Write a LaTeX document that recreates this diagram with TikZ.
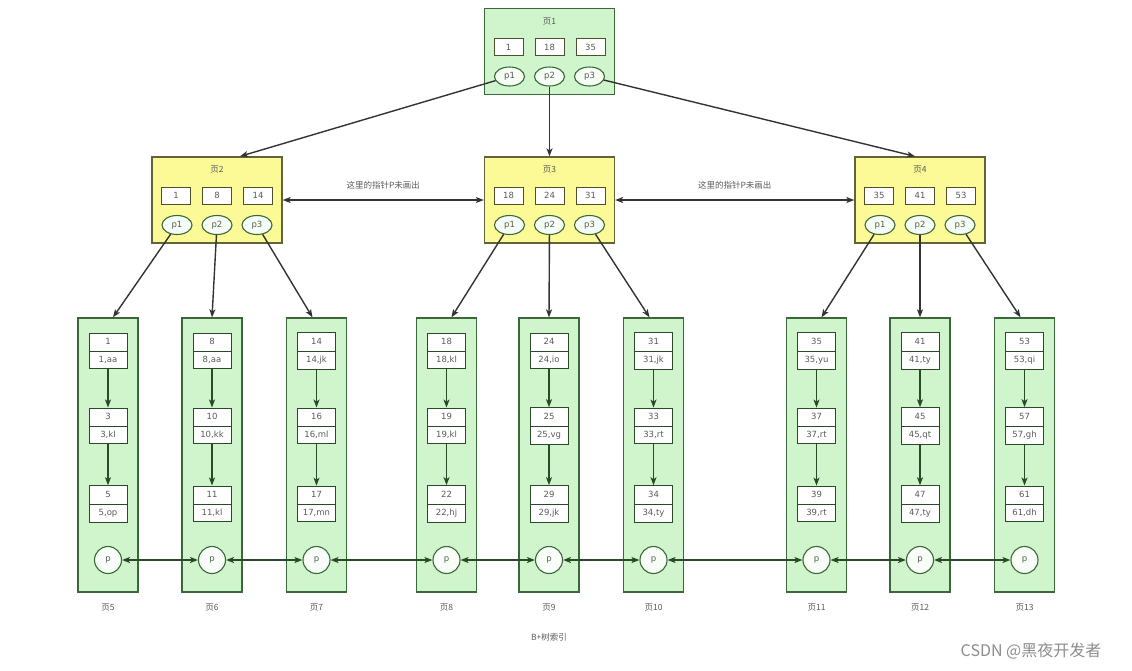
\documentclass[tikz,border=0pt]{standalone}
\usepackage{fontspec}
\setmainfont{DejaVu Sans}
\newfontfamily\cjk{Noto Sans CJK SC}
\usetikzlibrary{arrows.meta}
\usetikzlibrary{shapes.multipart}
\usetikzlibrary{shapes.geometric}
\usepackage{xcolor}
\definecolor{leaffill}{RGB}{208,245,204}
\definecolor{leafline}{RGB}{58,104,58}
\definecolor{pagefill}{RGB}{252,250,150}
\definecolor{pageline}{RGB}{95,100,60}
\definecolor{txt}{RGB}{90,90,90}

\begin{document}
\begin{tikzpicture}[x=1pt,y=-1pt, >={Stealth[length=8pt,width=6pt,inset=2pt]},
  every node/.style={text=txt, font=\fontsize{8.5}{10}\selectfont},
  inner/.style={draw=pageline, fill=pagefill, line width=1.3pt, minimum width=130, minimum height=86},
  leaf/.style={draw=leafline, fill=leaffill, line width=1.3pt, minimum width=60, minimum height=274},
  key/.style={draw=pageline!80!black, fill=white, line width=1pt, minimum width=29, minimum height=17, inner sep=1pt},
  ptr/.style={draw=leafline, fill=white!80!leaffill, ellipse, line width=1.1pt, minimum width=30, minimum height=19, inner sep=0pt},
  rec/.style={draw=leafline!70!black, fill=white, line width=1pt, rectangle split, rectangle split parts=2,
    minimum width=38, text height=6.5pt, text depth=2pt, inner ysep=4.5pt},
  nxt/.style={circle, draw=leafline, fill=white!85!leaffill, line width=1.1pt, minimum size=27, inner sep=0pt},
  link/.style={draw=black!80, line width=1.4pt},
  down/.style={draw=leafline!70!black, line width=1.4pt, ->}]
\useasboundingbox (0,0) rectangle (1132,670);
% index pages
\foreach \n/\x/\y/\ka/\kb/\kc in {1/549.5/51.5/1/18/35, 2/217/200/1/8/14, 3/549.5/200/18/24/31, 4/920/200/35/41/53} {
  \ifnum\n=1 \node[inner, fill=leaffill, draw=leafline] (pg\n) at (\x,\y) {};
  \else \node[inner] (pg\n) at (\x,\y) {}; \fi
  \node (t\n) at (\x,\y-30) {\cjk 页\n};
  \node[key] (k\n-1) at (\x-41,\y-4.5) {\ka};
  \node[key] (k\n-2) at (\x,\y-4.5) {\kb};
  \node[key] (k\n-3) at (\x+41,\y-4.5) {\kc};
  \foreach \i/\dx in {1/-40,2/0,3/40}
    \node[ptr] (e\n-\i) at (\x+\dx,\y+25) {p\i};
}
% leaf pages
\foreach \n/\x/\ka/\va/\kb/\vb/\kc/\vc in {5/108/1/aa/3/kl/5/op, 6/212/8/aa/10/kk/11/kl, 7/316.5/14/jk/16/ml/17/mn,
  8/446.5/18/kl/19/kl/22/hj, 9/549/24/io/25/vg/29/jk, 10/653.5/31/jk/33/rt/34/ty,
  11/816.5/35/yu/37/rt/39/rt, 12/920/41/ty/45/qt/47/ty, 13/1024.5/53/qi/57/gh/61/dh} {
  \node[leaf] (lf\n) at (\x,455) {};
  \node[rec] (r\n-1) at (\x,351) {\ka \nodepart{two} \ka,\va};
  \node[rec] (r\n-2) at (\x,426) {\kb \nodepart{two} \kb,\vb};
  \node[rec] (r\n-3) at (\x,504) {\kc \nodepart{two} \kc,\vc};
  \draw[down] (r\n-1) -- (r\n-2);
  \draw[down] (r\n-2) -- (r\n-3);
  \node[nxt] (p\n) at (\x,560) {p};
  \node (lb\n) at (\x,608) {\cjk 页\n};
}
\foreach \a/\b in {5/6,6/7,7/8,8/9,9/10,10/11,11/12,12/13}
  \draw[down, <->] (p\a) -- (p\b);
% pointers between levels
\draw[link, ->] (e1-1) -- ([xshift=23]pg2.north);
\draw[link, ->] (e1-2) -- (pg3.north);
\draw[link, ->] (e1-3) -- ([xshift=-5]pg4.north);
\foreach \n/\a/\b/\c in {2/5/6/7, 3/8/9/10, 4/11/12/13} {
  \draw[link, ->] (e\n-1) -- ([xshift=5]lf\a.north);
  \draw[link, ->] (e\n-2) -- (lf\b.north);
  \draw[link, ->] (e\n-3) -- ([xshift=-4]lf\c.north);
}
\draw[link, <->] (pg2) -- node[above=7pt] (n1) {\cjk 这里的指针P未画出} (pg3);
\draw[link, <->] (pg3) -- node[above=7pt] (n2) {\cjk 这里的指针P未画出} (pg4);
\node (cap) at (549,637) {\cjk B+树索引};
\node[text=black!45, font=\fontsize{16}{18}\selectfont] (wm) at (1031,651) {\cjk CSDN @黑夜开发者};
\end{tikzpicture}
\end{document}
